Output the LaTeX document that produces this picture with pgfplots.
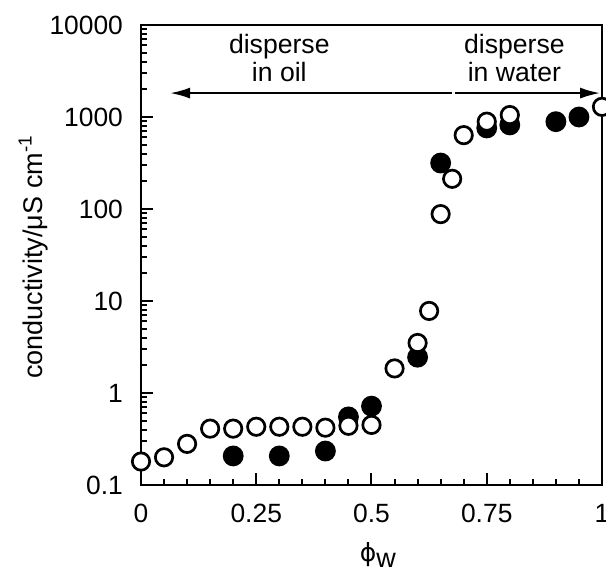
\documentclass[border=0pt]{standalone}
\usepackage{fontspec}
\setmainfont{Liberation Sans}
\newfontfamily\dejavu{DejaVu Sans}
\usepackage{pgfplots}
\pgfplotsset{compat=1.18}
\usetikzlibrary{arrows.meta}
\begin{document}
\begin{tikzpicture}
\path[use as bounding box] (-70.5pt,-45pt) rectangle (232.5pt,242.5pt);
\begin{axis}[
  scale only axis, width=230.5pt, height=230pt,
  xmin=0, xmax=1, ymode=log, ymin=0.1, ymax=10000,
  clip=false,
  axis line style={line width=1pt},
  tick align=inside, xtick pos=bottom, ytick pos=left,
  major tick length=6pt, minor tick length=3.2pt,
  every tick/.style={line width=1pt, black},
  xtick={0,0.25,0.5,0.75,1}, xticklabels={0,0.25,0.5,0.75,1},
  minor x tick num=4,
  ytick={0.1,1,10,100,1000,10000}, yticklabels={0.1,1,10,100,1000,10000},
  tick label style={font=\fontsize{13.2}{15}\selectfont},
  xticklabel style={yshift=-6pt},
  yticklabel style={xshift=-5.5pt},
  label style={font=\fontsize{13.5}{15}\selectfont},
  xlabel={{\dejavu\fontsize{12.5}{14}\selectfont ϕ}\raisebox{-0.22em}{w}},
  xlabel style={at={(axis description cs:0.514,-0.152)}, anchor=center},
  ylabel={conductivity/μS cm\textsuperscript{-1}},
  ylabel style={at={(axis description cs:-0.234,0.496)}, anchor=center},
]
\addplot[only marks, mark=*, mark size=4.6pt, mark options={fill=black, draw=black, line width=1.2pt}] coordinates {
(0.2,0.207) (0.3,0.207) (0.4,0.234) (0.45,0.55) (0.5,0.72) (0.6,2.45)
(0.65,316) (0.75,760) (0.8,820) (0.9,890) (0.95,1000)
};
\addplot[only marks, mark=*, mark size=4.35pt, mark options={fill=white, draw=black, line width=1.35pt}] coordinates {
(0,0.18) (0.05,0.2) (0.1,0.28) (0.15,0.41) (0.2,0.41) (0.25,0.43) (0.3,0.43)
(0.35,0.43) (0.4,0.42) (0.45,0.44) (0.5,0.45) (0.55,1.85) (0.6,3.5)
(0.625,7.8) (0.65,88) (0.675,213) (0.7,635) (0.75,890) (0.8,1050) (1.0,1290)
};
\draw[line width=1.1pt, -{Latex[length=10pt,width=5.5pt]}] (axis cs:0.675,1820) -- (axis cs:0.063,1820);
\draw[line width=1.1pt, -{Latex[length=10pt,width=5.5pt]}] (axis cs:0.681,1820) -- (axis cs:0.996,1820);
\node[align=center, font=\fontsize{13.3}{13.8}\selectfont] at (axis cs:0.30,4370) {disperse\\in oil};
\node[align=center, font=\fontsize{13.3}{13.8}\selectfont] at (axis cs:0.81,4370) {disperse\\in water};
\end{axis}
\end{tikzpicture}
\end{document}
